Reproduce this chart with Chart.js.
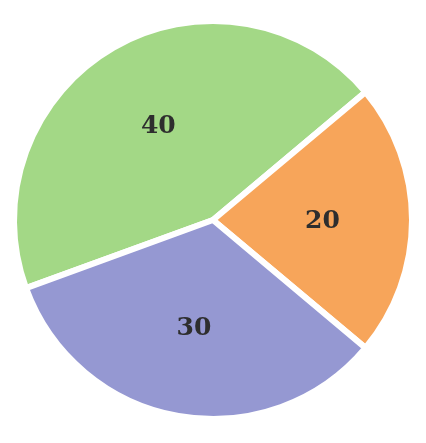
<!DOCTYPE html>
<html>
<head>
<meta charset="utf-8">
<script src="https://cdn.jsdelivr.net/npm/chart.js@4"></script>
<style>
  html, body { margin: 0; padding: 0; background: #ffffff; }
  #wrap { width: 426px; height: 443px; }
</style>
</head>
<body>
<div id="wrap"><canvas id="pie"></canvas></div>
<script>
const labels = ["A", "B", "C"];
const values = [40, 20, 30];
const colors = ["#a3d886", "#f7a55a", "#9598d2"];

// draws the value inside each slice
const sliceLabels = {
  id: "sliceLabels",
  afterDatasetsDraw(chart) {
    const ctx = chart.ctx;
    const meta = chart.getDatasetMeta(0);
    ctx.save();
    ctx.font = "bold 25px 'DejaVu Serif', serif";
    ctx.fillStyle = "#2e2e2e";
    ctx.textAlign = "center";
    ctx.textBaseline = "middle";
    meta.data.forEach((arc, i) => {
      const p = arc.getProps(["x", "y", "startAngle", "endAngle", "outerRadius"], true);
      const mid = (p.startAngle + p.endAngle) / 2;
      const r = p.outerRadius * 0.55;
      ctx.fillText(String(values[i]), p.x + Math.cos(mid) * r, p.y + Math.sin(mid) * r + 1);
    });
    ctx.restore();
  }
};

new Chart(document.getElementById("pie"), {
  type: "pie",
  data: {
    labels: labels,
    datasets: [{
      data: values,
      backgroundColor: colors,
      borderColor: "#ffffff",
      borderWidth: 6
    }]
  },
  options: {
    responsive: true,
    maintainAspectRatio: false,
    animation: false,
    rotation: 250,
    layout: { padding: { left: 10, right: 10, top: 18, bottom: 21 } },
    plugins: {
      legend: { display: false },
      tooltip: { enabled: false }
    }
  },
  plugins: [sliceLabels]
});
</script>
</body>
</html>
